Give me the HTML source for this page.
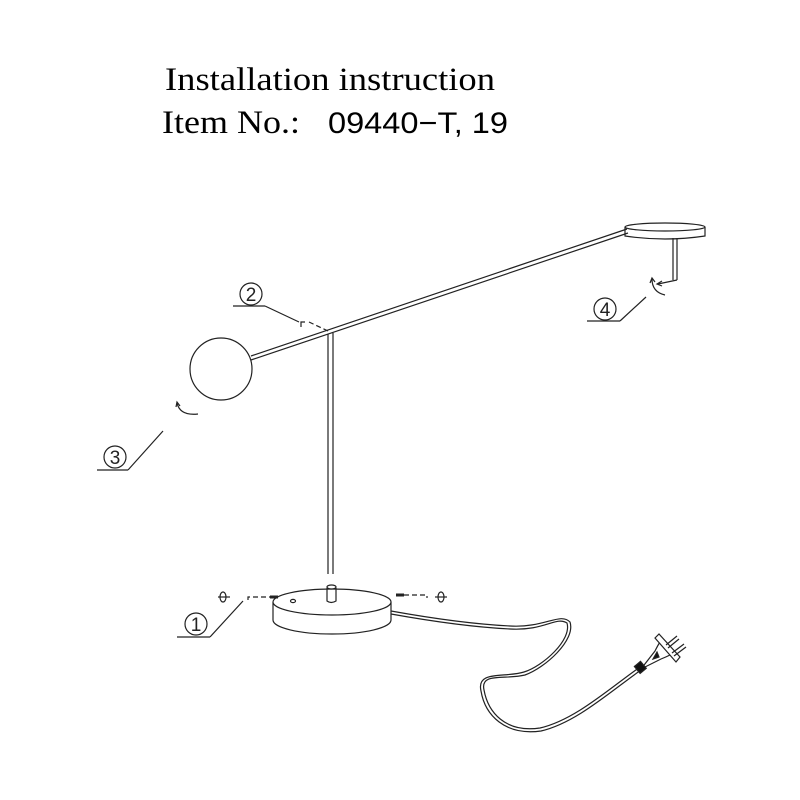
<!DOCTYPE html>
<html><head><style>body{margin:0;background:#fff}svg{display:block}</style></head><body>
<svg width="800" height="800" viewBox="0 0 800 800" xmlns="http://www.w3.org/2000/svg">
<rect width="800" height="800" fill="#fff"/>
<text x="165" y="90" textLength="330" lengthAdjust="spacingAndGlyphs" font-family="Liberation Serif, serif" font-size="33">Installation instruction</text>
<text x="162" y="133" textLength="138" lengthAdjust="spacingAndGlyphs" font-family="Liberation Serif, serif" font-size="33">Item No.:</text>
<text x="328" y="133" textLength="180" lengthAdjust="spacingAndGlyphs" font-family="Liberation Sans, sans-serif" font-size="30">09440−T, 19</text>
<g fill="none" stroke="#222" stroke-width="1.2">
<line x1="251" y1="356" x2="627" y2="229"/>
<line x1="251" y1="360" x2="628" y2="233"/>
<circle cx="221" cy="369" r="31" fill="#fff"/>
<line x1="328" y1="334" x2="328" y2="574"/>
<line x1="333" y1="333" x2="333" y2="574"/>
<ellipse cx="665" cy="227" rx="40" ry="4" fill="#fff"/>
<path d="M625 227 V236 Q665 242 705 236 V227"/>
<line x1="673" y1="238" x2="673" y2="280"/>
<line x1="677" y1="238" x2="677" y2="280"/>
<path d="M677 280 L658 284"/>
<path d="M662 281 L657 284 L662 286"/>
<path d="M652 279 Q652 292 665 295"/>
<path d="M650 283 L652 278 L655 282"/>
<path d="M273 602 V620 A59 14 0 0 0 391 620 V602"/>
<ellipse cx="332" cy="602" rx="59" ry="13" fill="#fff"/>
<ellipse cx="293" cy="601" rx="2.5" ry="1.6"/>
<path d="M327 588 V601 Q331 604 336 601 V588"/>
<ellipse cx="331.5" cy="587" rx="4.5" ry="2" fill="#fff"/>
<path d="M391 611 C430 618 470 624 510 626 C545 628 560 612 570 622 C576 640 545 668 525 675 C505 680 480 672 484 690 C488 712 505 733 540 728 C575 720 610 688 640 667"/>
<path d="M391 614 C430 621 470 627 510 629 C545 631 556 616 567 623 C572 640 543 666 524 672 C505 678 476 670 481 691 C485 715 505 736 541 731 C576 723 611 691 641 670"/>
<!-- plug -->
<path d="M641 669 L655 651 Q658 645 660 642 L670 655 Q666 657 661 659 Z" fill="#fff"/>
<path d="M655 638 L659 634 L680 657 L676 662 Z" fill="#fff"/>
<path d="M653 659 L657 652 L659 657 Z" fill="#111"/>
<line x1="666" y1="645" x2="677" y2="636"/><line x1="668" y1="648" x2="679" y2="639"/>
<line x1="672" y1="653" x2="684" y2="644"/><line x1="674" y1="656" x2="686" y2="647"/>
<rect x="636" y="663" width="8" height="9" fill="#111" transform="rotate(-40 640 667)"/>
<path d="M248 600 V597 H270" stroke-dasharray="5 3"/>
<line x1="270" y1="597" x2="278" y2="597" stroke-width="3"/>
<line x1="396" y1="595" x2="404" y2="595" stroke-width="3"/>
<path d="M404 595 H427 V598" stroke-dasharray="5 3"/>
<path d="M301 327 V322 H305"/>
<path d="M309 322 L328 331" stroke-dasharray="5 3"/>
<ellipse cx="223" cy="597" rx="3" ry="5"/><line x1="218" y1="597" x2="230" y2="597"/>
<ellipse cx="441" cy="597" rx="3" ry="5"/><line x1="435" y1="597" x2="447" y2="597"/>
<path d="M177 403 Q180 416 198 414"/><path d="M176 407 L177 402 L180 406"/>
<circle cx="196" cy="624" r="11"/><line x1="177" y1="637" x2="210" y2="637"/><line x1="210" y1="637" x2="243" y2="601"/>
<circle cx="251" cy="294" r="11"/><line x1="233" y1="306" x2="265" y2="306"/><line x1="265" y1="306" x2="299" y2="322"/>
<circle cx="115" cy="457" r="11"/><line x1="97" y1="470" x2="128" y2="470"/><line x1="128" y1="470" x2="163" y2="431"/>
<circle cx="605" cy="309" r="11"/><line x1="587" y1="321" x2="620" y2="321"/><line x1="620" y1="321" x2="646" y2="297"/>
</g>
<g font-family="Liberation Sans, sans-serif" font-size="19" text-anchor="middle" fill="#222">
<text x="196" y="631">1</text><text x="251" y="301">2</text><text x="115" y="464">3</text><text x="605" y="316">4</text>
</g>
</svg>
</body></html>
